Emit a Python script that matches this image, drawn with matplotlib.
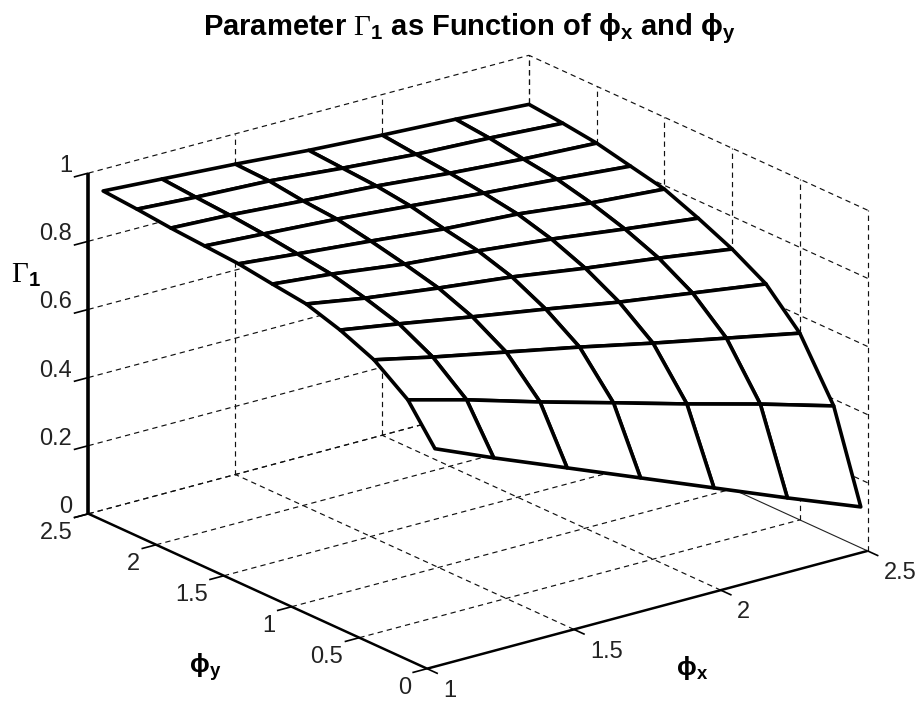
import numpy as np
import matplotlib
matplotlib.use('Agg')
import matplotlib.pyplot as plt
from mpl_toolkits.mplot3d import proj3d

# values
phi_x = [1.05, 1.25, 1.5, 1.75, 2.0, 2.25, 2.5]
phi_y = [0.05, 0.25, 0.5, 0.75, 1.0, 1.25, 1.5, 1.75, 2.0, 2.25, 2.5]
gamma_1 = [
    [.625, .552, .465, .378, .291, .204, .120],
    [.732, .686, .622, .562, .501, .443, .380],
    [.804, .766, .723, .680, .634, .591, .548],
    [.846, .818, .781, .746, .709, .678, .647],
    [.877, .848, .820, .795, .763, .735, .704],
    [.890, .873, .845, .826, .803, .775, .749],
    [.904, .887, .867, .845, .831, .806, .789],
    [.911, .900, .886, .867, .847, .830, .811],
    [.918, .910, .894, .880, .860, .844, .833],
    [.928, .917, .907, .887, .870, .860, .846],
    [.936, .925, .911, .894, .881, .870, .856],
]
x_ticks = [1, 1.5, 2, 2.5]
x_labels = ['1', '1.5', '2', '2.5']
y_ticks = [0, 0.5, 1, 1.5, 2, 2.5]
y_labels = ['0', '0.5', '1', '1.5', '2', '2.5']
z_ticks = [0, 0.2, 0.4, 0.6, 0.8, 1]
z_labels = ['0', '0.2', '0.4', '0.6', '0.8', '1']

plt.rcParams['font.family'] = 'Liberation Sans'
plt.rcParams['mathtext.fontset'] = 'custom'
plt.rcParams['mathtext.rm'] = 'Liberation Serif'
plt.rcParams['mathtext.bf'] = 'Liberation Sans:bold'
plt.rcParams['mathtext.it'] = 'Liberation Sans:italic'

W, H = 923, 702
S = 1000
fig = plt.figure(figsize=(W / 100, H / 100), dpi=100)
ax = fig.add_axes([(464.5 - S / 2) / W, (326.5 - S / 2) / H, S / W, S / H],
                  projection='3d', computed_zorder=False)
ax.set_proj_type('ortho')
ax.view_init(elev=20.47, azim=-127.4)
ax.set_xlim(1, 2.5, view_margin=0)
ax.set_ylim(0, 2.5, view_margin=0)
ax.set_zlim(0, 1, view_margin=0)
ax.set_box_aspect((555, 558, 364), zoom=0.841)
ax.set_xticks([])
ax.set_yticks([])
ax.set_zticks([])
ax.set_axis_off()

xmin, xmax, ymin, ymax = 1, 2.5, 0, 2.5
dash = dict(color='#111111', lw=0.85, ls=(0, (4.5, 3.5)), zorder=1)


def tick_label(x, y, z, label, ha):
    # flat text placed at the projected point of the 3d position
    px, py, _ = proj3d.proj_transform(x, y, z, ax.get_proj())
    ax.text2D(px, py, label, transform=ax.transData, ha=ha, va='center',
              fontsize=17, color='#222222')


# back walls and floor grid
for z in z_ticks:
    ax.plot([xmin, xmax], [ymax, ymax], [z, z], **dash)
    if z > 0:
        ax.plot([xmax, xmax], [ymin, ymax], [z, z], **dash)
for x in x_ticks[1:]:
    ax.plot([x, x], [ymax, ymax], [0, 1], **dash)
    if x < xmax:
        ax.plot([x, x], [ymin, ymax], [0, 0], **dash)
for y in y_ticks[1:]:
    ax.plot([xmax, xmax], [y, y], [0, 1], **dash)
    ax.plot([xmin, xmax], [y, y], [0, 0], **dash)
ax.plot([xmax, xmax], [ymin, ymax], [0, 0], color='#222222', lw=0.8, zorder=1)
ax.plot([xmax, xmax], [ymin, ymin], [0, 1], **dash)

# mesh
X, Y = np.meshgrid(phi_x, phi_y)
ax.plot_surface(X, Y, np.array(gamma_1), rstride=1, cstride=1, color='white',
                edgecolor='black', linewidth=2.6, shade=False, zorder=2)

# axis lines and ticks
axis = dict(color='black', zorder=3, solid_capstyle='butt')
ax.plot([xmin, xmax], [ymin, ymin], [0, 0], lw=1.8, **axis)
ax.plot([xmin, xmin], [ymin, ymax], [0, 0], lw=1.8, **axis)
ax.plot([xmin, xmin], [ymax, ymax], [0, 1], lw=2.6, **axis)
for x, lab in zip(x_ticks, x_labels):
    ax.plot([x, x], [0, -0.08], [0, 0], lw=1.2, **axis)
    tick_label(x + 0.055, 0, -0.078, lab, 'left')
for y, lab in zip(y_ticks, y_labels):
    ax.plot([xmin, xmin - 0.05], [y, y], [0, 0], lw=1.2, **axis)
    tick_label(xmin - 0.055, y, -0.045, lab, 'right')
for z, lab in zip(z_ticks, z_labels):
    ax.plot([xmin, xmin - 0.05], [ymax, ymax], [z, z], lw=1.2, **axis)
    tick_label(xmin - 0.055, ymax, z + 0.033, lab, 'right')

# title and axis names
fig.text(469 / W, 1 - 29 / H,
         r'Parameter $\mathrm{\Gamma}_{\mathbf{1}}$ as Function of '
         r'$\mathbf{\phi}_{\mathbf{x}}$ and $\mathbf{\phi}_{\mathbf{y}}$',
         ha='center', va='center', fontsize=21, fontweight='bold')
fig.text(26 / W, 1 - 275 / H, r'$\mathrm{\Gamma}_{\mathbf{1}}$',
         ha='center', va='center', fontsize=21)
fig.text(205 / W, 1 - 667 / H, r'$\mathbf{\phi}_{\mathbf{y}}$',
         ha='center', va='center', fontsize=19)
fig.text(692 / W, 1 - 668 / H, r'$\mathbf{\phi}_{\mathbf{x}}$',
         ha='center', va='center', fontsize=19)

fig.savefig('out.png', dpi=100)
